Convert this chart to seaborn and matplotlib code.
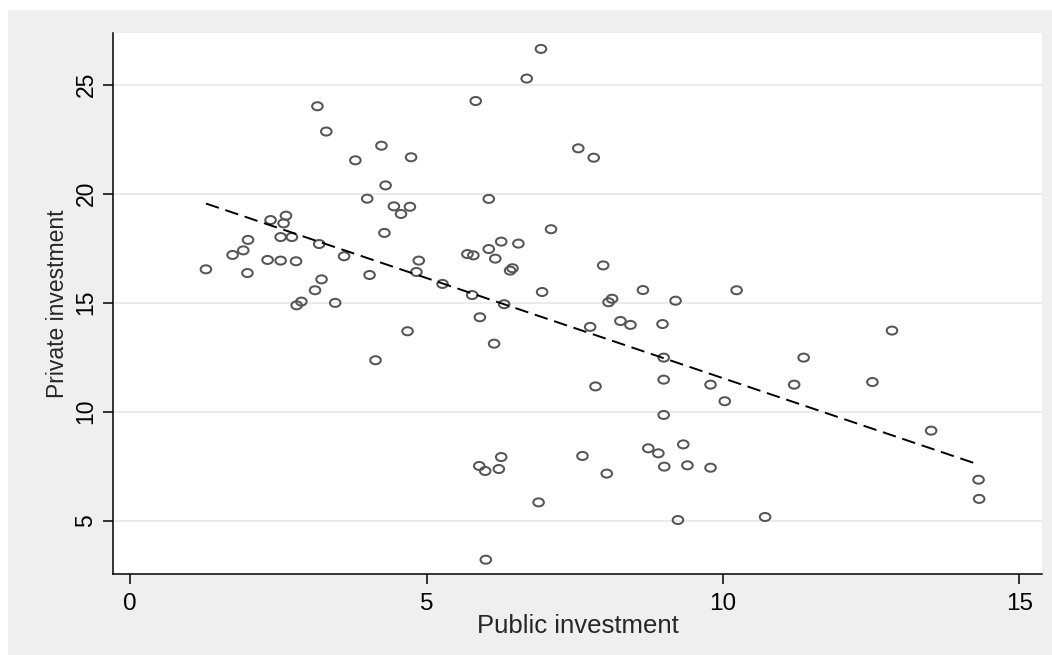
import numpy as np
import pandas as pd
import matplotlib
matplotlib.use("Agg")
import matplotlib.pyplot as plt
from matplotlib.path import Path
from matplotlib.patches import Rectangle
import seaborn as sns

# Public vs. private investment (share of GDP, %)
public_investment = [
    1.28, 1.73, 1.91, 1.99, 1.98, 2.32, 2.37, 2.54, 2.54, 2.59,
    2.63, 2.73, 2.80, 2.81, 2.89, 3.12, 3.16, 3.19, 3.23, 3.31,
    3.46, 3.61, 3.80, 4.00, 4.04, 4.14, 4.24, 4.29, 4.31, 4.45,
    4.57, 4.68, 4.72, 4.74, 4.83, 4.87, 5.27, 5.69, 5.77, 5.79,
    5.83, 5.89, 5.90, 5.99, 6.00, 6.05, 6.05, 6.14, 6.16, 6.22,
    6.26, 6.26, 6.31, 6.41, 6.45, 6.55, 6.69, 6.89, 6.93, 6.95,
    7.10, 7.56, 7.63, 7.76, 7.82, 7.85, 7.98, 8.04, 8.07, 8.13,
    8.27, 8.44, 8.65, 8.74, 8.91, 8.98, 9.00, 9.00, 9.00, 9.01,
    9.20, 9.24, 9.33, 9.40, 9.79, 9.79, 10.03, 10.23, 10.71, 11.20,
    11.36, 12.52, 12.85, 13.51, 14.31, 14.32,
]
private_investment = [
    16.53, 17.19, 17.40, 17.88, 16.36, 16.96, 18.79, 16.93, 18.01, 18.64,
    18.99, 18.01, 16.90, 14.88, 15.05, 15.57, 24.01, 17.69, 16.07, 22.85,
    14.99, 17.13, 21.53, 19.77, 16.27, 12.36, 22.20, 18.20, 20.38, 19.42,
    19.07, 13.69, 19.40, 21.67, 16.41, 16.93, 15.86, 17.23, 15.35, 17.17,
    24.25, 7.51, 14.33, 7.28, 3.21, 19.76, 17.46, 13.12, 17.02, 7.37,
    17.80, 7.92, 14.93, 16.47, 16.58, 17.71, 25.28, 5.84, 26.64, 15.49,
    18.37, 22.08, 7.97, 13.89, 21.65, 11.16, 16.71, 7.16, 15.02, 15.18,
    14.16, 13.98, 15.58, 8.32, 8.09, 14.02, 12.48, 11.47, 9.85, 7.48,
    15.09, 5.03, 8.50, 7.54, 11.24, 7.43, 10.48, 15.57, 5.17, 11.24,
    12.48, 11.36, 13.72, 9.13, 6.88, 6.00,
]
x_ticks = [0, 5, 10, 15]
y_ticks = [5, 10, 15, 20, 25]
x_title = "Public investment"
y_title = "Private investment"

df = pd.DataFrame({"public": public_investment, "private": private_investment})

sns.set_style("white")
plt.rcParams["font.family"] = ["Liberation Sans", "DejaVu Sans"]

fig = plt.figure(figsize=(10.52, 6.55), dpi=100, facecolor="white")
# grey graph region behind the plot area
fig.patches.append(Rectangle((8 / 1052, 0), 1, 1 - 10 / 655,
                             transform=fig.transFigure, facecolor="#efefef",
                             edgecolor="none", zorder=-10))
ax = fig.add_axes([113 / 1052, 1 - 574 / 655, 929 / 1052, 541 / 655])
ax.set_facecolor("white")

# slightly flattened hollow circle marker
circle = Path.unit_circle()
ellipse = Path(circle.vertices * np.array([1.0, 0.76]), circle.codes)

sns.scatterplot(data=df, x="public", y="private", ax=ax, marker=ellipse,
                s=58, facecolors="none", edgecolor="#555555", linewidth=1.45,
                zorder=3)
sns.regplot(data=df, x="public", y="private", ax=ax, scatter=False, ci=None,
            truncate=True,
            line_kws=dict(color="black", lw=1.4, dashes=(7, 3.5), zorder=4))

ax.set_xlim(-0.287, 15.38)
ax.set_ylim(2.555, 27.37)
ax.set_xticks(x_ticks)
ax.set_yticks(y_ticks)
ax.set_xticklabels([str(t) for t in x_ticks], fontsize=17.5)
ax.set_yticklabels([str(t) for t in y_ticks], fontsize=16.5, rotation=90,
                   va="center")

ax.yaxis.grid(True, color="#e6e6e6", lw=1.1)
ax.xaxis.grid(False)
ax.set_axisbelow(True)

for side in ("top", "right"):
    ax.spines[side].set_visible(False)
for side in ("left", "bottom"):
    ax.spines[side].set_color("black")
    ax.spines[side].set_linewidth(1.1)

ax.tick_params(axis="both", direction="out", length=7.2, width=1.1,
               color="black", labelcolor="black")
ax.tick_params(axis="x", pad=6.5)
ax.tick_params(axis="y", pad=4)
ax.tick_params(left=True, bottom=True)

ax.set_xlabel(x_title, fontsize=18.5, labelpad=-1)
ax.set_ylabel(y_title, fontsize=16.5, labelpad=4)

fig.savefig("out.png", dpi=100, facecolor="white")
